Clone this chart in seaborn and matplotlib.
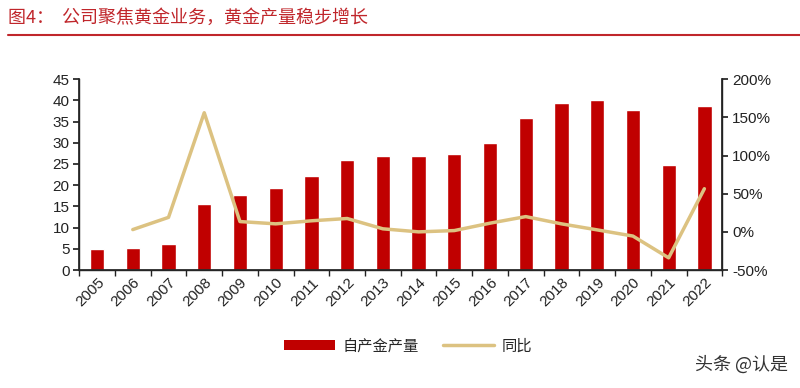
import numpy as np
import pandas as pd
import seaborn as sns
import matplotlib.pyplot as plt
from matplotlib.ticker import FuncFormatter, FixedLocator
from matplotlib.patches import Patch
from matplotlib.lines import Line2D

years = ["2005", "2006", "2007", "2008", "2009", "2010", "2011", "2012", "2013",
         "2014", "2015", "2016", "2017", "2018", "2019", "2020", "2021", "2022"]
output = [5.0, 5.1, 6.1, 15.6, 17.7, 19.4, 22.2, 26.0, 26.8,
          26.8, 27.3, 30.0, 35.8, 39.3, 40.1, 37.8, 24.8, 38.7]
yoy = [np.nan, 0.03, 0.19, 1.56, 0.135, 0.105, 0.145, 0.175, 0.04,
       0.0, 0.017, 0.114, 0.20, 0.105, 0.026, -0.055, -0.34, 0.565]

bar_color = "#C00000"
line_color = "#DCC281"

sns.set_theme(style="white")
plt.rcParams["font.family"] = ["Liberation Sans", "Noto Sans CJK SC", "DejaVu Sans"]

df = pd.DataFrame({"year": years, "output": output, "yoy": yoy})
df["pos"] = np.arange(len(df))

fig = plt.figure(figsize=(8, 3.88), dpi=100)
ax = fig.add_axes([0.099, 0.304, 0.8038, 0.492])

sns.barplot(data=df, x="year", y="output", color=bar_color, width=0.4,
            saturation=1, ax=ax)
ax.set_xlim(-0.5, len(years) - 0.5)
ax.set_ylim(0, 45)
ax.set_yticks(range(0, 46, 5))
ax.set_xlabel("")
ax.set_ylabel("")
ax.tick_params(axis="y", labelsize=11, length=4, direction="out", left=True,
               colors="#222222", pad=3)
ax.xaxis.set_minor_locator(FixedLocator(np.arange(-0.5, len(years), 1)))
ax.tick_params(axis="x", which="major", length=0, labelsize=11, pad=4,
               colors="#222222")
ax.tick_params(axis="x", which="minor", length=4, bottom=True, color="#222222")
plt.setp(ax.get_xticklabels(), rotation=45, ha="right", rotation_mode="anchor")
ax.spines["top"].set_visible(False)
for s in ["left", "bottom", "right"]:
    ax.spines[s].set_color("#222222")
    ax.spines[s].set_linewidth(1)

ax2 = ax.twinx()
sns.lineplot(data=df, x="pos", y="yoy", color=line_color, linewidth=2.5, ax=ax2)
ax2.set_ylim(-0.5, 2.0)
ax2.set_yticks(np.arange(-0.5, 2.01, 0.5))
ax2.yaxis.set_major_formatter(FuncFormatter(lambda v, p: f"{v * 100:.0f}%"))
ax2.set_ylabel("")
ax2.tick_params(axis="y", labelsize=11, length=4, direction="out", right=True,
                colors="#222222", pad=3)
ax2.spines["top"].set_visible(False)
ax2.spines["right"].set_color("#222222")
ax2.grid(False)
ax.grid(False)

handles = [Patch(facecolor=bar_color, edgecolor="none"),
           Line2D([0], [0], color=line_color, linewidth=2.5)]
fig.legend(handles, ["自产金产量", "同比"], loc="center", bbox_to_anchor=(0.51, 0.108),
           ncol=2, frameon=False, handlelength=3.3, handleheight=0.6,
           columnspacing=1.6, handletextpad=0.5,
           prop={"family": ["Noto Sans CJK SC"], "size": 11})

fig.text(0.01, 0.955, "图4：  公司聚焦黄金业务，黄金产量稳步增长", color="#C0262B",
         fontsize=13, va="center", ha="left", family=["Noto Sans CJK SC"])
fig.add_artist(Line2D([0.01, 1.0], [0.91, 0.91], color="#C0262B", linewidth=1.5,
                      transform=fig.transFigure))
fig.text(0.985, 0.06, "头条 @认是", color="#333333", fontsize=13, ha="right",
         va="center", family=["Noto Sans CJK SC", "DejaVu Sans"])

fig.savefig("out.png", dpi=100)
